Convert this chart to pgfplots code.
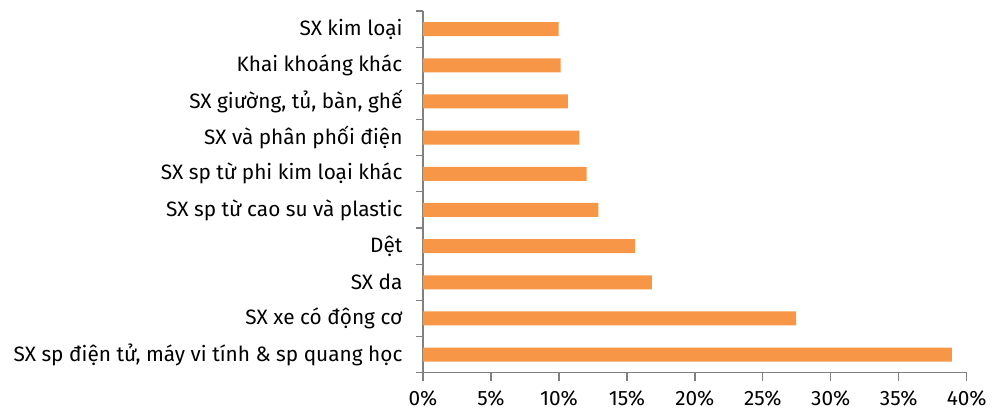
\documentclass[border=0pt]{standalone}
\usepackage{pgfplots}
\pgfplotsset{compat=1.18}
\usepackage{fontspec}
\setmainfont{Fira Sans}
\definecolor{barorange}{HTML}{F79646}
\definecolor{axgray}{RGB}{128,128,128}
\begin{document}
\begin{tikzpicture}
\begin{axis}[
  scale only axis,
  width=543.7pt, height=361.7pt,
  xbar, bar width=14pt,
  xmin=0, xmax=40, ymin=-0.5, ymax=9.5,
  axis x line*=bottom, axis y line*=left,
  axis line style={axgray, line width=1.3pt, -},
  xtick={0,5,...,40},
  xticklabel={\pgfmathprintnumber{\tick}\%},
  /pgf/number format/assume math mode=true,
  ytick={0,...,9},
  yticklabels={{SX sp điện tử, máy vi tính \& sp quang học},{SX xe có động cơ},{SX da},{Dệt},{SX sp từ cao su và plastic},{SX sp từ phi kim loại khác},{SX và phân phối điện},{SX giường, tủ, bàn, ghế},{Khai khoáng khác},{SX kim loại}},
  y tick style={draw=none},
  extra y ticks={-0.5,0.5,...,9.5},
  extra y tick labels={},
  extra y tick style={y tick style={draw=axgray, line width=1.3pt}, major tick length=7pt},
  tick align=outside,
  x tick style={axgray, line width=1.3pt},
  major tick length=8pt,
  tick label style={font=\fontsize{20.8}{23}\selectfont, text=black},
  yticklabel style={xshift=-9pt},
  xticklabel style={yshift=-6.5pt},
]
\addplot[fill=barorange, draw=none] coordinates {
  (38.9,0) (27.45,1) (16.83,2) (15.6,3) (12.9,4) (12.04,5) (11.5,6) (10.65,7) (10.13,8) (9.98,9)
};
\end{axis}
\pgfresetboundingbox
\path[use as bounding box] ([shift={(-423pt,-40.3pt)}]current axis.south west) rectangle ([shift={(32.3pt,11pt)}]current axis.north east);
\end{tikzpicture}
\end{document}
